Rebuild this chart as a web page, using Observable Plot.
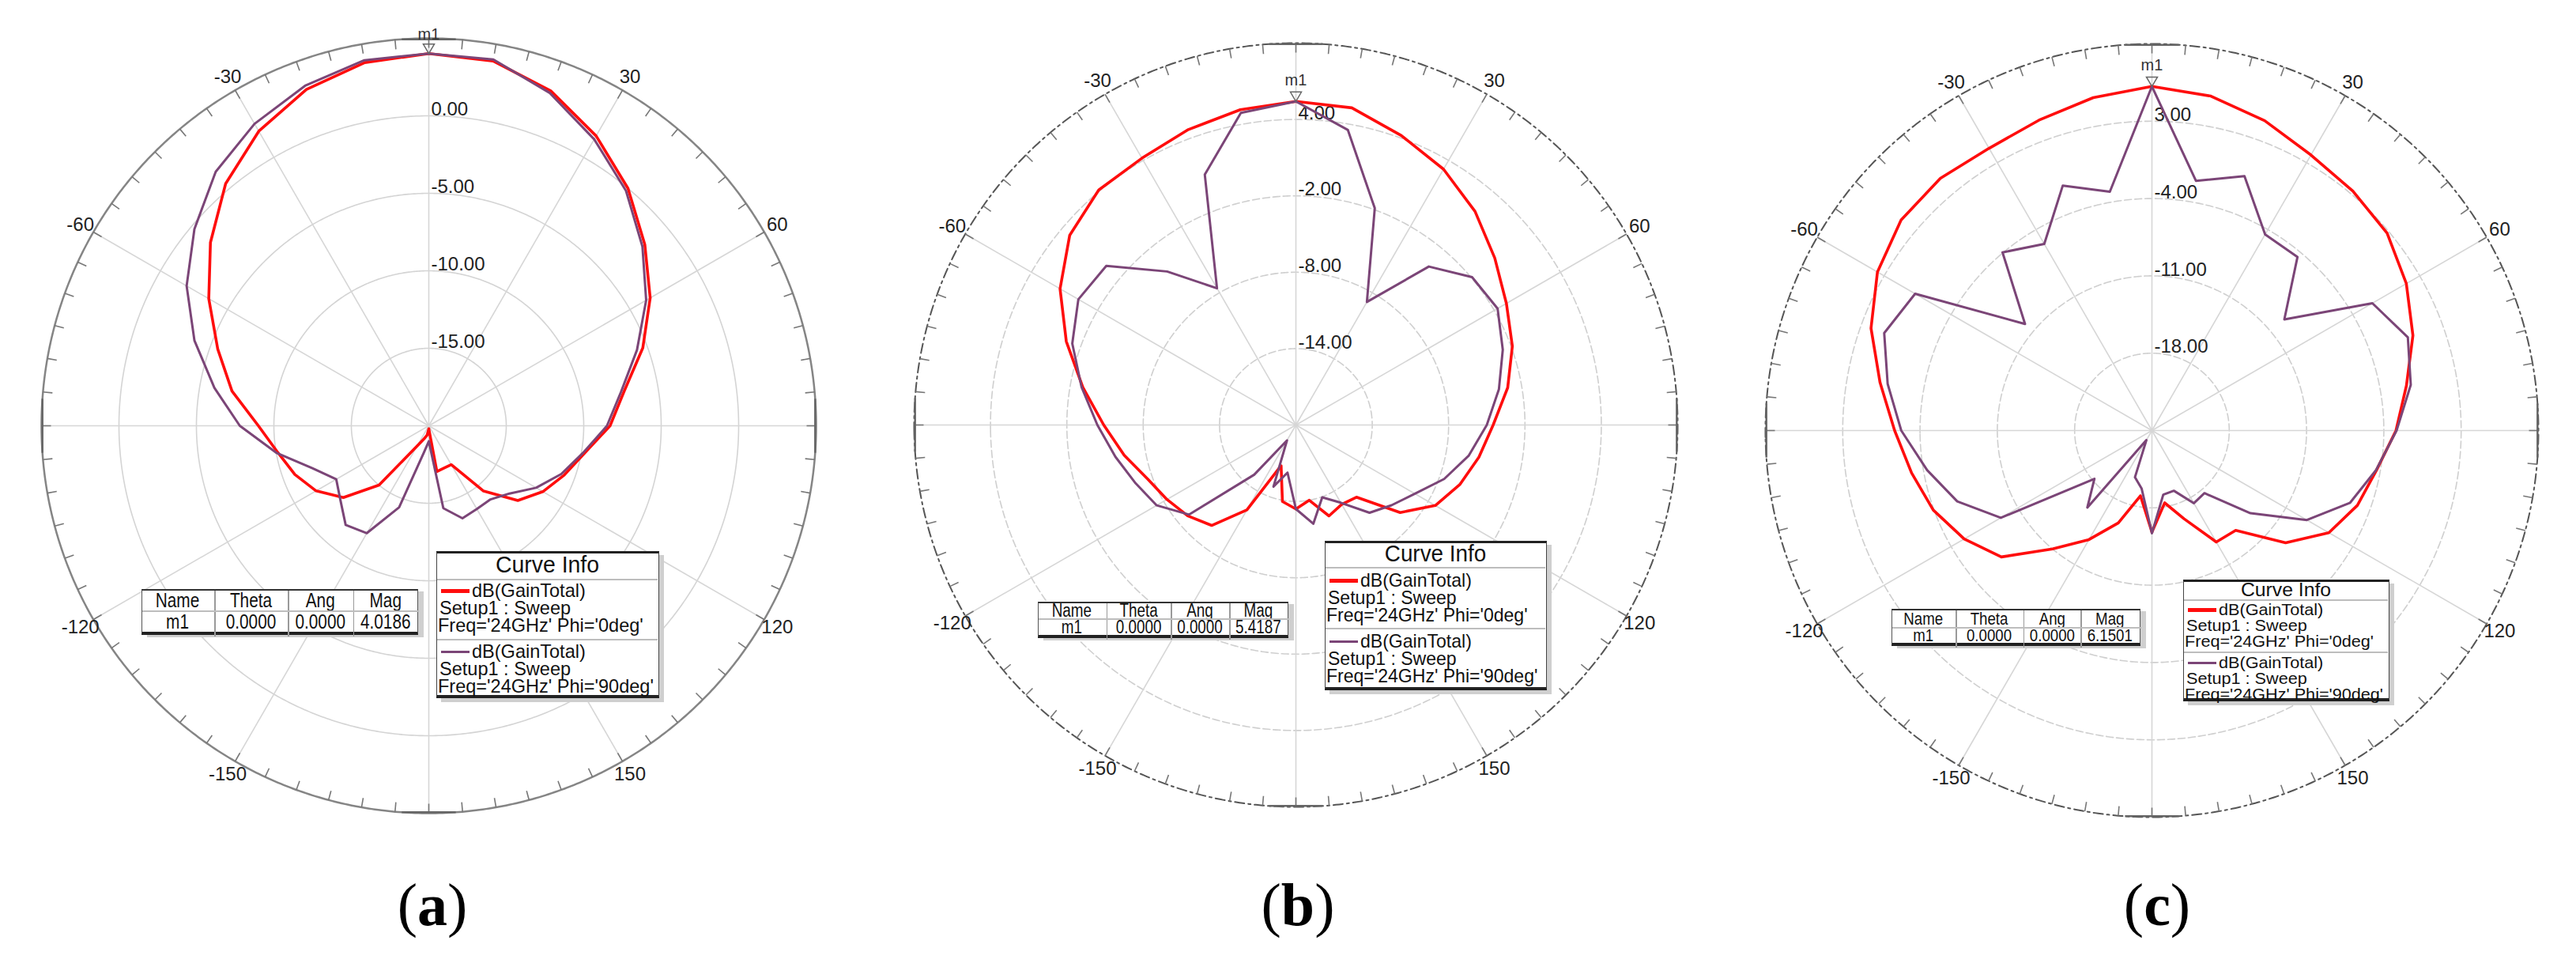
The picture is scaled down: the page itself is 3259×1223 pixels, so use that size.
<!DOCTYPE html>
<html>
<head>
<meta charset="utf-8">
<script src="https://cdn.jsdelivr.net/npm/d3@7"></script>
<script src="https://cdn.jsdelivr.net/npm/@observablehq/plot@0.6"></script>
<style>
  html, body { margin: 0; padding: 0; background: #fff; }
  #root { position: relative; width: 3259px; height: 1223px; overflow: hidden; background: #fff; }
  .panel { position: absolute; }
  .panel svg { display: block; overflow: visible; max-width: none; }
  .tbl, .info { position: absolute; background: #fff; box-sizing: border-box;
    font-family: "Liberation Sans", Arial, sans-serif; color: #111; }
  .tbl { border: 1.5px solid #555; border-top: 2px solid #333; border-bottom: 4px solid #222; box-shadow: 7px 3px 0 #cfcfcf; }
  .info { border: 1.5px solid #444; border-top: 3px solid #222; border-bottom: 4px solid #222; box-shadow: 6px 5px 0 #cfcfcf; }
  .t { position: absolute; white-space: nowrap; }
  .rule { position: absolute; }
  .cap { position: absolute; font-family: "Liberation Serif", "Times New Roman", serif; font-size: 76px; line-height: 76px; color: #000; transform: translateX(-50%); white-space: nowrap; }
</style>
</head>
<body>
<div id="root"></div>
<script>
// ---------------- data ----------------
const thetaDeg = [-180,-170,-160,-150,-140,-130,-120,-110,-100,-90,-80,-70,-60,-50,-40,-30,-20,-10,0,
                  10,20,30,40,50,60,70,80,90,100,110,120,130,140,150,160,170,180];

const angleTicks      = [-150,-120,-90,-60,-30,0,30,60,90,120,150,180];
const angleTickLabels = ["-150","-120","-90","-60","-30","0","30","60","90","120","150","-180"];

// (a)
const rangeA      = [-20, 5];
const ringsA      = [-15, -10, -5, 0];
const ringLabelsA = ["-15.00", "-10.00", "-5.00", "0.00"];
const gainA_phi0  = [-19.8,-19.4,-19.1,-18.5,-15.0,-12.8,-11.6,-10.8,-10.1,-9.0,-7.1,-5.5,-3.6,-1.6,0.4,1.95,3.1,3.8,4.0186,
                     3.9,3.0,1.6,0.0,-1.8,-3.5,-5.3,-7.2,-8.3,-9.8,-10.7,-11.5,-12.5,-14.5,-17.1,-17.1,-17.0,-19.8];
const gainA_phi90 = [-19.0,-18.3,-14.4,-12.0,-11.65,-12.55,-13.1,-12.0,-10.0,-7.8,-5.95,-3.9,-1.95,-0.25,1.4,2.5,3.35,3.95,4.0186,
                     4.0,2.85,1.35,-0.2,-2.0,-3.8,-5.7,-7.4,-8.5,-9.9,-10.9,-12.0,-13.2,-13.8,-13.8,-13.65,-14.6,-19.0];
const markerA     = ["m1", "0.0000", "0.0000", "4.0186"];

// (b)
const rangeB      = [-20, 10];
const ringsB      = [-14, -8, -2, 4];
const ringLabelsB = ["-14.00", "-8.00", "-2.00", "4.00"];
const gainB_phi0  = [-13.4,-13.9,-16.6,-12.3,-9.7,-8.9,-8.3,-7.6,-6.3,-4.9,-3.0,-0.8,1.4,3.2,4.1,4.2,4.7,5.15,5.4187,
                     5.3,4.2,3.2,1.9,0.4,-0.9,-1.9,-3.1,-4.5,-5.4,-6.3,-7.35,-9.3,-12.6,-12.8,-12.4,-14.0,-13.4];
const gainB_phi90 = [-13.4,-16.2,-14.85,-18.6,-14.9,-9.05,-7.37,-6.6,-5.6,-4.4,-2.9,-1.3,-0.26,-0.55,-4.26,-7.6,0.93,4.9,5.4187,
                     3.53,-1.88,-8.84,-3.75,-1.93,-1.7,-2.7,-3.8,-5.0,-6.2,-7.6,-9.2,-10.19,-11.0,-12.95,-13.95,-12.12,-13.4];
const markerB     = ["m1", "0.0000", "0.0000", "5.4187"];

// (c)
const rangeC      = [-25, 10];
const ringsC      = [-18, -11, -4, 3];
const ringLabelsC = ["-18.00", "-11.00", "-4.00", "3.00"];
const gainC_phi0  = [-15.8,-19.0,-16.1,-13.6,-11.0,-7.2,-5.37,-3.93,-2.9,-1.7,0.0,2.07,3.7,4.65,4.8,4.5,4.9,5.6,6.1501,
                     5.74,4.85,3.8,3.3,2.8,1.6,0.15,-1.6,-2.9,-4.35,-5.2,-6.5,-9.2,-13.2,-13.35,-16.5,-18.35,-15.8];
const gainC_phi90 = [-15.7,-19.65,-20.5,-24.0,-15.9,-18.2,-9.2,-6.24,-4.33,-2.3,-0.7,0.8,-0.24,-10.0,-3.95,-5.5,-1.4,-3.05,6.1501,
                     -2.05,-0.5,-4.5,-4.5,-9.35,-1.95,-0.34,-1.2,-2.85,-4.39,-5.9,-8.8,-13.36,-17.6,-17.4,-19.2,-19.1,-15.7];
const markerC     = ["m1", "0.0000", "0.0000", "6.1501"];

const markerHeaders = ["Name", "Theta", "Ang", "Mag"];
const curveInfoTitle = "Curve Info";
const curvePhi0Lines  = ["dB(GainTotal)", "Setup1 : Sweep", "Freq='24GHz' Phi='0deg'"];
const curvePhi90Lines = ["dB(GainTotal)", "Setup1 : Sweep", "Freq='24GHz' Phi='90deg'"];
const captions = ["a", "b", "c"];

// ---------------- style / layout ----------------
const RED = "#ff0d0d", PURPLE = "#7b4577";
const root = document.getElementById("root");

const downTriangle = {
  draw(ctx, size) {
    const r = Math.sqrt(size / Math.PI);
    ctx.moveTo(-r, -1.7 * r); ctx.lineTo(r, -1.7 * r); ctx.lineTo(0, 0); ctx.closePath();
  }
};

function polarPanel(cfg) {
  const [lo, hi] = cfg.range;
  const R = cfg.R, M = 61, S = 2 * R + 2 * M;
  const rho = v => (v - lo) / (hi - lo);      // angular distance (deg) from centre; outer circle = 1
  const lat = v => 90 - rho(v);
  const lon = t => 180 - t;                   // 0° at top, clockwise positive
  const px = p => p / R;                      // pixels -> degrees of arc
  const circle = r => d3.geoCircle().center([0, 90]).radius(r).precision(0.5)();
  const pts = vals => thetaDeg.map((t, i) => ({t, v: vals[i]}));
  const ticks5 = d3.range(-180, 180, 5);
  const cardinal = [0, 90, 180, -90];
  const peak = cfg.phi0[thetaDeg.indexOf(0)];
  const labelOff = t => (t === 0 ? cfg.topLabelOffset : 19);

  const svg = Plot.plot({
    width: S, height: S, margin: M,
    projection: {type: "azimuthal-equidistant", rotate: [0, -90], domain: circle(1)},
    style: {background: "transparent", fontFamily: "'Liberation Sans', Arial, sans-serif", overflow: "visible"},
    marks: [
      Plot.geo(cfg.rings, {geometry: v => circle(rho(v)), fill: "none", stroke: cfg.ringStroke,
        strokeWidth: 1.6, strokeDasharray: cfg.ringDash}),
      Plot.link(angleTicks, {x1: lon, y1: 90, x2: lon, y2: 89, stroke: "#d6d6d6", strokeWidth: 1.6}),
      Plot.geo([1], {geometry: r => circle(r), fill: "none", stroke: cfg.outerStroke,
        strokeWidth: cfg.outerWidth, strokeDasharray: cfg.outerDash}),
      Plot.link(ticks5, {x1: lon, y1: 89, x2: lon, y2: 89 + px(12), stroke: "#777", strokeWidth: 1.6}),
      Plot.link(cardinal, {x1: t => lon(t) - 4, y1: 89, x2: t => lon(t) + 4, y2: 89, stroke: "#666", strokeWidth: 2.5}),
      Plot.text(angleTicks, {x: lon, y: t => 89 - px(labelOff(t)), text: (d, i) => angleTickLabels[i],
        fontSize: 24, fill: "#222"}),
      Plot.text(cfg.rings, {x: 180, y: lat, text: (d, i) => cfg.ringLabels[i], textAnchor: "start",
        dx: 3, dy: -8, fontSize: 24, fill: "#222"}),
      Plot.line(pts(cfg.phi0), {x: d => lon(d.t), y: d => lat(d.v), stroke: RED, strokeWidth: 3.6,
        strokeLinejoin: "round"}),
      Plot.line(pts(cfg.phi90), {x: d => lon(d.t), y: d => lat(d.v), stroke: PURPLE, strokeWidth: 3,
        strokeLinejoin: "round"}),
      Plot.dot([peak], {x: 180, y: lat, symbol: downTriangle, r: 7, fill: "none", stroke: "#666", strokeWidth: 1.5}),
      Plot.text([peak], {x: 180, y: lat, text: () => cfg.marker[0], dy: cfg.m1dy, fontSize: 20, fill: "#333"})
    ]
  });
  const wrap = document.createElement("div");
  wrap.className = "panel";
  Object.assign(wrap.style, {left: (cfg.cx - S / 2) + "px", top: (cfg.cy - S / 2) + "px", width: S + "px", height: S + "px"});
  wrap.appendChild(svg);
  root.appendChild(wrap);
}

function addText(parent, str, o) {
  const d = document.createElement("div");
  d.className = "t";
  d.textContent = str;
  const lh = o.lh != null ? o.lh : Math.round(o.size * 1.2);
  Object.assign(d.style, {
    left: o.left + "px", top: (o.cy - lh / 2) + "px", fontSize: o.size + "px", lineHeight: lh + "px",
    height: lh + "px", transform: `scaleX(${o.sx})`, transformOrigin: "0 50%"
  });
  if (o.width != null) {
    d.style.width = o.width + "px"; d.style.textAlign = "center"; d.style.transformOrigin = "50% 50%";
  }
  parent.appendChild(d);
}
function addRule(parent, l, t, w, h, c) {
  const d = document.createElement("div");
  d.className = "rule";
  Object.assign(d.style, {left: l + "px", top: t + "px", width: w + "px", height: h + "px", background: c});
  parent.appendChild(d);
}

function markerTable(L, values) {
  const box = document.createElement("div");
  box.className = "tbl";
  const W = d3.sum(L.cols), H = d3.sum(L.rows);
  Object.assign(box.style, {left: L.left + "px", top: L.top + "px", width: W + "px", height: H + "px"});
  let x = 0;
  L.cols.forEach((w, j) => {
    if (j) addRule(box, x - 2, 0, 1.5, H, "#9a9a9a");
    addText(box, markerHeaders[j], {left: x - 2, width: w, cy: L.rows[0] / 2 - 1, size: L.size, sx: L.sx, lh: L.rows[0] - 2});
    addText(box, values[j], {left: x - 2, width: w, cy: L.rows[0] + L.rows[1] / 2 - 3, size: L.size, sx: L.sx, lh: L.rows[1] - 4});
    x += w;
  });
  addRule(box, 0, L.rows[0] - 2, W, 1.5, "#bdbdbd");
  root.appendChild(box);
}

function curveInfo(L) {
  const box = document.createElement("div");
  box.className = "info";
  Object.assign(box.style, {left: L.left + "px", top: L.top + "px", width: L.w + "px", height: L.h + "px"});
  addText(box, curveInfoTitle, {left: 0, width: L.w - 3, cy: L.titleH / 2 - 3, size: L.titleSize, sx: L.sx, lh: L.titleH - 4});
  addRule(box, 0, L.titleH - 3, L.w - 3, 1.5, "#bdbdbd");
  addRule(box, 0, L.div - 3, L.w - 3, 1.5, "#bdbdbd");
  const step = L.lines[0][1] - L.lines[0][0];
  [[curvePhi0Lines, RED, 5], [curvePhi90Lines, PURPLE, 3]].forEach(([lines, color, sw], k) => {
    const ys = L.lines[k];
    addRule(box, 5, ys[0] - 3 - sw / 2, 36, sw, color);
    addText(box, lines[0], {left: 44, cy: ys[0] - 3, size: L.size, sx: L.sx, lh: step});
    addText(box, lines[1], {left: 3, cy: ys[1] - 3, size: L.size, sx: L.sx, lh: step});
    addText(box, lines[2], {left: 1, cy: ys[2] - 3, size: L.size, sx: L.sx, lh: step});
  });
  root.appendChild(box);
}

// ---------------- panels ----------------
polarPanel({cx: 542, cy: 538, R: 490, range: rangeA, rings: ringsA, ringLabels: ringLabelsA,
  phi0: gainA_phi0, phi90: gainA_phi90, marker: markerA, topLabelOffset: 30, m1dy: -24,
  ringStroke: "#d4d4d4", ringDash: null, outerStroke: "#858585", outerWidth: 2.5, outerDash: null});
polarPanel({cx: 1639, cy: 537, R: 483, range: rangeB, rings: ringsB, ringLabels: ringLabelsB,
  phi0: gainB_phi0, phi90: gainB_phi90, marker: markerB, topLabelOffset: 19, m1dy: -27,
  ringStroke: "#cfcfcf", ringDash: "9,4", outerStroke: "#555", outerWidth: 2, outerDash: "12,5,3,5"});
polarPanel({cx: 2722, cy: 544, R: 489, range: rangeC, rings: ringsC, ringLabels: ringLabelsC,
  phi0: gainC_phi0, phi90: gainC_phi90, marker: markerC, topLabelOffset: 19, m1dy: -27,
  ringStroke: "#cfcfcf", ringDash: "9,4", outerStroke: "#555", outerWidth: 2, outerDash: "12,5,3,5"});

markerTable({left: 179, top: 745, cols: [93, 93, 82.5, 81.5], rows: [27, 31], size: 26, sx: 0.8}, markerA);
markerTable({left: 1313, top: 761, cols: [87.6, 81.4, 74, 73.6], rows: [21, 25], size: 23, sx: 0.82}, markerB);
markerTable({left: 2393, top: 770, cols: [82.4, 85.1, 72.8, 74.5], rows: [23, 24], size: 22, sx: 0.85}, markerC);

curveInfo({left: 552, top: 697, w: 282, h: 186, titleH: 35, titleSize: 29, size: 24, sx: 0.98,
  lines: [[50, 72, 94], [127, 149, 171]], div: 111});
curveInfo({left: 1676, top: 684, w: 281, h: 189, titleH: 33, titleSize: 29, size: 24, sx: 0.96,
  lines: [[50, 72, 94], [127, 149, 171]], div: 110});
curveInfo({left: 2762, top: 733, w: 261, h: 154, titleH: 25, titleSize: 24, size: 21, sx: 1.03,
  lines: [[38, 58, 78], [105, 125, 145]], div: 91});

// ---------------- captions ----------------
[547, 1642, 2729].forEach((x, i) => {
  const c = document.createElement("div");
  c.className = "cap";
  c.innerHTML = "(<b>" + captions[i] + "</b>)";
  Object.assign(c.style, {left: x + "px", top: "1106px"});
  root.appendChild(c);
});
</script>
</body>
</html>
